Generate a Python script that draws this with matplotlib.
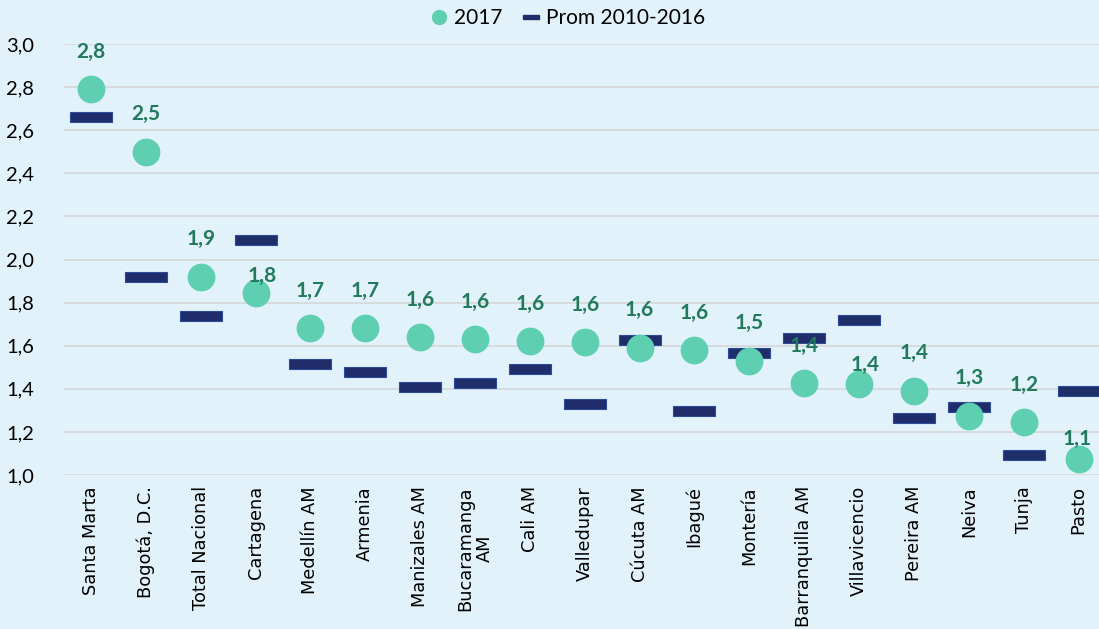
import matplotlib
matplotlib.use("Agg")
import matplotlib.pyplot as plt
from matplotlib.ticker import FuncFormatter, MultipleLocator
from matplotlib.lines import Line2D
import numpy as np

categories = ["Santa Marta", "Bogotá, D.C.", "Total Nacional", "Cartagena", "Medellín AM",
              "Armenia", "Manizales AM", "Bucaramanga\nAM", "Cali AM", "Valledupar",
              "Cúcuta AM", "Ibagué", "Montería", "Barranquilla AM", "Villavicencio",
              "Pereira AM", "Neiva", "Tunja", "Pasto"]
values_2017 = [2.79, 2.50, 1.92, 1.845, 1.68, 1.68, 1.64, 1.63, 1.62, 1.615,
               1.59, 1.58, 1.53, 1.425, 1.42, 1.39, 1.275, 1.245, 1.075]
prom_2010_2016 = [2.66, 1.92, 1.74, 2.09, 1.515, 1.48, 1.41, 1.425, 1.49, 1.33,
                  1.625, 1.295, 1.565, 1.635, 1.72, 1.265, 1.315, 1.095, 1.39]
labels_2017 = ["2,8", "2,5", "1,9", "1,8", "1,7", "1,7", "1,6", "1,6", "1,6", "1,6",
               "1,6", "1,6", "1,5", "1,4", "1,4", "1,4", "1,3", "1,2", "1,1"]
series_names = ["2017", "Prom 2010-2016"]

# label offsets in points (dx, dy) - some labels manually moved in original
label_offsets = {3: (5, 12), 14: (4, 14), 18: (-1, 14)}
default_offset = (0, 27)

BG = "#E2F2FA"
CIRCLE = "#5ECFB1"
DASH = "#1F2D6B"
LABEL = "#217A5C"

fig = plt.figure(figsize=(10.99, 6.29), dpi=100)
fig.patch.set_facecolor(BG)
ax = fig.add_axes([63.5 / 1099, 1 - 475 / 629, (1106 - 63.5) / 1099, (475 - 44) / 629])
ax.set_facecolor(BG)

x = np.arange(len(categories))
ax.set_xlim(-0.5, len(categories) - 0.5)
ax.set_ylim(1.0, 3.0)

ax.yaxis.set_major_locator(MultipleLocator(0.2))
ax.yaxis.set_major_formatter(FuncFormatter(lambda v, p: f"{v:.1f}".replace(".", ",")))
ax.grid(axis="y", color="#D6D9DB", lw=1.3)
ax.set_axisbelow(True)
for s in ax.spines.values():
    s.set_visible(False)
ax.tick_params(axis="both", length=0)
ax.tick_params(axis="y", pad=21, labelsize=14.5)
for t in ax.get_yticklabels():
    t.set_family("Lato")

rect = [(-1, -0.225), (1, -0.225), (1, 0.225), (-1, 0.225), (-1, -0.225)]
ax.plot(x, prom_2010_2016, linestyle="none", marker=rect, markersize=30,
        markerfacecolor=DASH, markeredgecolor="#2E4A9A", markeredgewidth=0.8, zorder=3)
ax.plot(x, values_2017, linestyle="none", marker="o", markersize=19,
        markerfacecolor=CIRCLE, markeredgecolor=CIRCLE, zorder=4)

for i, (xi, yi, lab) in enumerate(zip(x, values_2017, labels_2017)):
    dx, dy = label_offsets.get(i, default_offset)
    ax.annotate(lab, (xi, yi), xytext=(dx, dy), textcoords="offset points",
                ha="center", va="center", fontsize=15, fontweight="bold",
                color=LABEL, family="Lato", zorder=5)

ax.set_xticks(x)
ax.set_xticklabels(categories, rotation=90, fontsize=12.8, family="DejaVu Sans",
                   va="top", ha="center", linespacing=1.15)
ax.tick_params(axis="x", pad=8)

handles = [
    Line2D([], [], linestyle="none", marker="o", markersize=10,
           markerfacecolor=CIRCLE, markeredgecolor=CIRCLE),
    Line2D([], [], linestyle="none", marker=rect, markersize=11,
           markerfacecolor=DASH, markeredgecolor=DASH),
]
leg = fig.legend(handles, series_names, loc="center", bbox_to_anchor=(568 / 1099, 1 - 18 / 629),
                 ncol=2, frameon=False, handlelength=0.8, handletextpad=0.3,
                 columnspacing=1.0, prop={"family": "Lato", "size": 15})

fig.savefig("out.png", dpi=100, facecolor=BG)
